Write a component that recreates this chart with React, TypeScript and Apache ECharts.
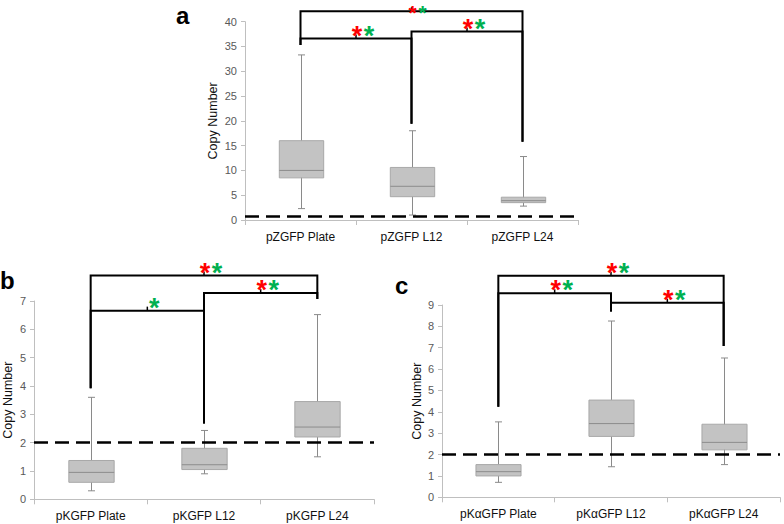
import React, { useEffect, useRef } from "react";
import * as echarts from "echarts";

const categoriesA = ["pZGFP Plate", "pZGFP L12", "pZGFP L24"];
const categoriesB = ["pKGFP Plate", "pKGFP L12", "pKGFP L24"];
const categoriesC = ["pKαGFP Plate", "pKαGFP L12", "pKαGFP L24"];

// [min, Q1, median, Q3, max]
const boxesA = [
  [2.3, 8.5, 10.0, 16.0, 33.3],
  [1.0, 4.7, 6.8, 10.6, 18.0],
  [2.8, 3.5, 3.9, 4.6, 12.8],
];
const boxesB = [
  [0.3, 0.6, 0.95, 1.37, 3.6],
  [0.9, 1.05, 1.22, 1.8, 2.43],
  [1.5, 2.2, 2.55, 3.45, 6.52],
];
const boxesC = [
  [0.7, 1.0, 1.2, 1.53, 3.53],
  [1.43, 2.85, 3.45, 4.55, 8.25],
  [1.53, 2.22, 2.57, 3.42, 6.52],
];

const thresholdA = 0.8;
const thresholdB = 2;
const thresholdC = 2;

// y axis: [min, max, interval]
const yAxisA = [0, 40, 5];
const yAxisB = [0, 7, 1];
const yAxisC = [0, 9, 1];

// brackets: [fromIndex, toIndex, level, fromLegBottom, toLegBottom]
const bracketsA = [
  [0, 2, 42.1, 35.3, 15.8],
  [0, 1, 36.6, 35.3, 19.4],
  [1, 2, 38.0, 19.4, 15.8],
];
const starsA = ["rg", "rg", "rg"];
const bracketsB = [
  [0, 2, 7.9, 3.92, 7.07],
  [0, 1, 6.66, 3.92, 2.68],
  [1, 2, 7.28, 2.68, 7.07],
];
const starsB = ["rg", "g", "rg"];
const bracketsC = [
  [0, 2, 10.37, 4.24, 7.08],
  [0, 1, 9.55, 4.24, 8.69],
  [1, 2, 9.11, 8.69, 7.08],
];
const starsC = ["rg", "rg", "rg"];

const panelLabels = ["a", "b", "c"];

const FONT = "'Liberation Sans', Arial, sans-serif";
const AXIS_GRAY = "#bfbfbf";

function panelSeries(gi: number, boxes: number[][], threshold: number, brackets: number[][], stars: string[]) {
  const boxSeries = {
    type: "custom",
    xAxisIndex: gi,
    yAxisIndex: gi,
    silent: true,
    encode: { x: 0, y: [1, 2, 3, 4, 5] },
    data: boxes.map((b, i) => [i, ...b]),
    renderItem: (params: any, api: any) => {
      const i = api.value(0);
      const x = Math.round(api.coord([i, 0])[0]) + 0.5;
      const yMin = api.coord([i, api.value(1)])[1];
      const yQ1 = api.coord([i, api.value(2)])[1];
      const yMed = api.coord([i, api.value(3)])[1];
      const yQ3 = api.coord([i, api.value(4)])[1];
      const yMax = api.coord([i, api.value(5)])[1];
      const bw = api.size([1, 0])[0] * 0.4;
      const cap = 3.5;
      const ws = { stroke: "#8a8a8a", lineWidth: 1 };
      return {
        type: "group",
        children: [
          { type: "line", shape: { x1: x, y1: yMin, x2: x, y2: yMax }, style: ws },
          { type: "line", shape: { x1: x - cap, y1: yMin, x2: x + cap, y2: yMin }, style: ws },
          { type: "line", shape: { x1: x - cap, y1: yMax, x2: x + cap, y2: yMax }, style: ws },
          {
            type: "rect",
            shape: { x: x - bw / 2, y: yQ3, width: bw, height: yQ1 - yQ3 },
            style: { fill: "#c3c3c3", stroke: "#a8a8a8", lineWidth: 1 },
          },
          {
            type: "line",
            shape: { x1: x - bw / 2, y1: yMed, x2: x + bw / 2, y2: yMed },
            style: { stroke: "#8c8c8c", lineWidth: 1 },
          },
        ],
      };
    },
    markLine: {
      silent: true,
      symbol: "none",
      label: { show: false },
      lineStyle: { color: "#000", type: [14, 7], width: 2.5 },
      data: [{ yAxis: threshold }],
    },
  };
  const bracketSeries = {
    type: "custom",
    xAxisIndex: gi,
    yAxisIndex: gi,
    silent: true,
    clip: false,
    encode: { x: 0, y: 2 },
    data: brackets,
    renderItem: (params: any, api: any) => {
      const from = api.value(0);
      const to = api.value(1);
      const [x1, yL] = api.coord([from, api.value(2)]);
      const x2 = api.coord([to, api.value(2)])[0];
      const yA = api.coord([from, api.value(3)])[1];
      const yB = api.coord([to, api.value(4)])[1];
      const mx = (x1 + x2) / 2;
      const s = stars[params.dataIndex];
      const children: any[] = [
        {
          type: "polyline",
          shape: { points: [[x1, yA], [x1, yL], [x2, yL], [x2, yB]] },
          style: { stroke: "#000", lineWidth: 2, fill: "none" },
        },
        { type: "line", shape: { x1: mx, y1: yL, x2: mx, y2: yL - 4 }, style: { stroke: "#000", lineWidth: 1.5 } },
      ];
      // keep the star's text box inside the picture
      let fs = 27;
      let ty = yL - 3;
      if (ty - 0.56 * fs < 0) {
        fs = 21;
        ty = 0.56 * fs + 0.5;
      }
      const gap = fs === 27 ? 12 : 10;
      const starStyle = (fill: string, x: number) => ({
        type: "text",
        style: {
          text: "*",
          x,
          y: ty,
          fill,
          font: `bold ${fs}px ${FONT}`,
          align: "center",
          verticalAlign: "middle",
        },
      });
      if (s.length === 2) {
        children.push(starStyle("#ff0000", mx + 1));
        children.push(starStyle("#00b050", mx + 1 + gap));
      } else {
        children.push(starStyle("#00b050", mx + 7));
      }
      return { type: "group", children };
    },
  };
  return [boxSeries, bracketSeries];
}

function xAxisFor(gi: number, cats: string[]) {
  return {
    type: "category",
    gridIndex: gi,
    data: cats,
    boundaryGap: true,
    axisLine: { show: true, lineStyle: { color: AXIS_GRAY, width: 1 } },
    axisTick: { show: true, interval: 0, length: 5, lineStyle: { color: AXIS_GRAY } },
    axisLabel: { color: "#111", fontSize: 12, fontFamily: FONT, margin: 11, interval: 0 },
    splitLine: { show: false },
  };
}

function yAxisFor(gi: number, ax: number[], gap: number) {
  return {
    type: "value",
    gridIndex: gi,
    min: ax[0],
    max: ax[1],
    interval: ax[2],
    name: "Copy Number",
    nameLocation: "middle",
    nameGap: gap,
    nameRotate: 90,
    nameTextStyle: { color: "#111", fontSize: 12.5, fontFamily: FONT },
    axisLine: { show: true, lineStyle: { color: AXIS_GRAY, width: 1 } },
    axisTick: { show: true, length: 4, lineStyle: { color: AXIS_GRAY } },
    axisLabel: { color: "#595959", fontSize: 11, fontFamily: FONT, margin: 8 },
    splitLine: { show: false },
  };
}

export default function App() {
  const ref = useRef<HTMLDivElement>(null);
  useEffect(() => {
    if (!ref.current) return;
    const chart = echarts.init(ref.current, undefined, { renderer: "svg" });
    chart.setOption({
      animation: false,
      backgroundColor: "#fff",
      grid: [
        { left: 245, right: 206, top: 21.7, bottom: 304 },
        { left: 34, right: 410, top: 301, bottom: 24.7 },
        { left: 442, right: 4, top: 305, bottom: 26.7 },
      ],
      xAxis: [xAxisFor(0, categoriesA), xAxisFor(1, categoriesB), xAxisFor(2, categoriesC)],
      yAxis: [yAxisFor(0, yAxisA, 26), yAxisFor(1, yAxisB, 20), yAxisFor(2, yAxisC, 18)],
      series: [
        ...panelSeries(0, boxesA, thresholdA, bracketsA, starsA),
        ...panelSeries(1, boxesB, thresholdB, bracketsB, starsB),
        ...panelSeries(2, boxesC, thresholdC, bracketsC, starsC),
      ],
      graphic: [
        { type: "text", left: 176, top: 3, style: { text: panelLabels[0], font: `bold 24px ${FONT}`, fill: "#000" } },
        { type: "text", left: 0, top: 268, style: { text: panelLabels[1], font: `bold 24px ${FONT}`, fill: "#000" } },
        { type: "text", left: 395, top: 273, style: { text: panelLabels[2], font: `bold 24px ${FONT}`, fill: "#000" } },
      ],
    });
    return () => chart.dispose();
  }, []);
  return <div ref={ref} style={{ position: "absolute", left: 0, top: 0, width: 784, height: 524 }} />;
}
